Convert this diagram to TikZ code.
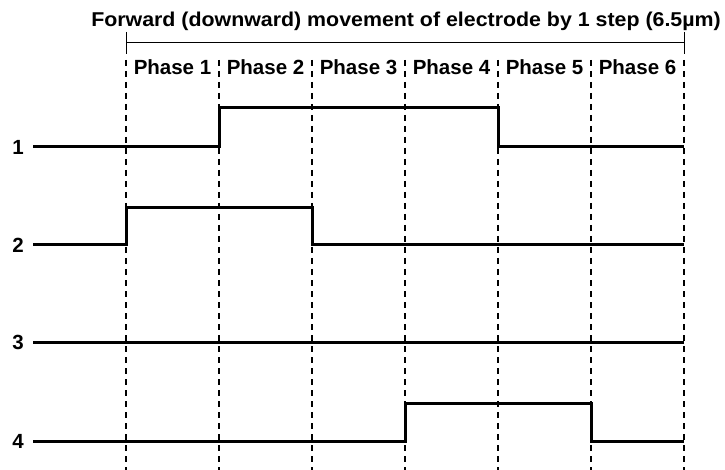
\documentclass[tikz,border=0pt]{standalone}
\usepackage{fontspec}
\setmainfont{Liberation Sans}
\begin{document}
\begin{tikzpicture}[x=1pt,y=-1pt,
  sig/.style={line width=3pt,line join=miter},
  grid/.style={line width=1.2pt,dash pattern=on 6pt off 5pt},
  bracket/.style={line width=1pt},
  lab/.style={font=\bfseries\fontsize{20.5}{24}\selectfont,inner sep=0pt},
  phase/.style={font=\bfseries\fontsize{20.5}{24}\selectfont,inner sep=0pt},
  title/.style={font=\bfseries\fontsize{20}{24}\selectfont,inner sep=0pt}]
\useasboundingbox (0,0) rectangle (725,470);
% phase boundaries
\foreach \i/\x in {0/126,1/219,2/312,3/405,4/498,5/591,6/684}{
  \coordinate (t\i) at (\x,60);
  \coordinate (b\i) at (\x,470);
  \draw[grid] (t\i) -- (b\i);
}
% title and bracket
\node[title,anchor=base] (title) at (406,27) {\scalebox{1.068}[1]{Forward (downward) movement of electrode by 1 step (6.5µm)}};
\coordinate (bl) at (126,43);
\coordinate (br) at (684,43);
\draw[bracket] (bl) -- (br);
\draw[bracket] (126,32) -- (126,54);
\draw[bracket] (684,32) -- (684,54);
% phase labels
\foreach \i in {1,...,6}{
  \node[phase,anchor=base,fill=white,inner xsep=1pt,inner ysep=1pt] (p\i) at ({126+93*(\i-0.5)},75) {Phase \i};
}
% signal labels
\node[lab] (l1) at (18,147) {1};
\node[lab] (l2) at (18,245) {2};
\node[lab] (l3) at (18,342) {3};
\node[lab] (l4) at (18,441) {4};
% waveforms
\draw[sig] (33,147) -- (219,147) -- (219,108) -- (498,108) -- (498,147) -- (684,147);
\draw[sig] (33,245) -- (126,245) -- (126,208) -- (312,208) -- (312,245) -- (684,245);
\draw[sig] (33,342) -- (684,342);
\draw[sig] (33,441) -- (405,441) -- (405,403) -- (591,403) -- (591,441) -- (684,441);
\end{tikzpicture}
\end{document}
